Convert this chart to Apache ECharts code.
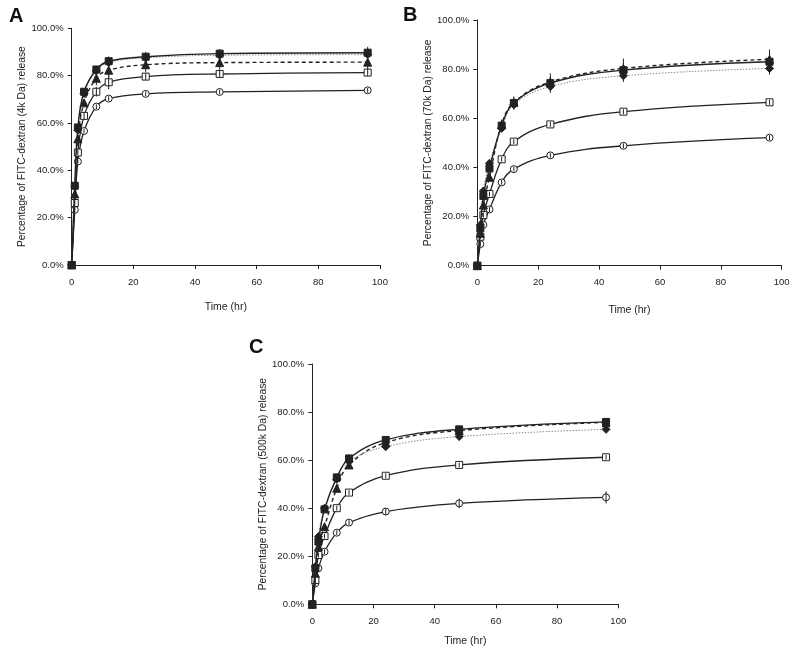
<!DOCTYPE html>
<html>
<head>
<meta charset="utf-8">
<script src="https://cdn.jsdelivr.net/npm/echarts@6/dist/echarts.min.js"></script>
<style>html,body{margin:0;padding:0;background:#fff}#c{width:800px;height:650px}</style>
</head>
<body>
<div id="c"></div>
<script>
// Time points (hr)
var times = [0, 1, 2, 4, 8, 12, 24, 48, 96];

// X ticks and Y ticks
var xTicks = [0, 20, 40, 60, 80, 100];
var yTicks = [0, 20, 40, 60, 80, 100];

// Panel titles
var panelLetters = ['A', 'B', 'C'];
var yTitles = [
  'Percentage of FITC-dextran (4k Da) release',
  'Percentage of FITC-dextran (70k Da) release',
  'Percentage of FITC-dextran (500k Da) release'
];
var xTitle = 'Time (hr)';

// Panel A (4k Da) values, % release
var A_sq   = [0, 33.5, 58.1, 73.2, 82.6, 86.1, 88.0, 89.3, 89.7];
var A_dia  = [0, 33.0, 57.0, 72.5, 82.0, 85.5, 87.5, 88.6, 88.9];
var A_tri  = [0, 30.0, 53.3, 68.5, 78.9, 82.3, 84.6, 85.5, 85.7];
var A_osq  = [0, 26.2, 47.5, 63.0, 73.2, 77.2, 79.6, 80.7, 81.3];
var A_ocir = [0, 23.3, 43.7, 56.6, 66.9, 70.3, 72.3, 73.1, 73.8];
// Panel A error bars (±)
var A_sq_err   = [0, 1, 1, 1.5, 1.5, 2, 2, 2, 2.5];
var A_dia_err  = [0, 1, 1, 1, 1.5, 1.5, 1.5, 2, 2];
var A_tri_err  = [0, 1, 1, 1.5, 3, 3, 3, 3, 3];
var A_osq_err  = [0, 1, 1, 1.5, 2, 3, 1.5, 1.5, 1.5];
var A_ocir_err = [0, 1, 1, 1, 1, 1, 1, 1, 1];

// Panel B (70k Da)
var B_sq   = [0, 15.2, 28.4, 39.6, 57.0, 66.2, 74.3, 79.6, 83.0];
var B_dia  = [0, 16.6, 30.4, 41.7, 55.9, 65.5, 72.9, 77.3, 80.3];
var B_tri  = [0, 13.2, 24.7, 36.0, 57.5, 66.4, 74.8, 80.3, 84.0];
var B_osq  = [0, 11.8, 20.6, 29.2, 43.3, 50.5, 57.5, 62.7, 66.5];
var B_ocir = [0, 8.8, 16.6, 22.9, 33.9, 39.3, 44.9, 48.8, 52.1];
var B_sq_err   = [0, 1, 1.5, 1.5, 1.5, 2, 2.5, 3, 3.5];
var B_dia_err  = [0, 1, 1, 1.5, 1.5, 2, 2.5, 2.5, 2.5];
var B_tri_err  = [0, 1, 1, 1.5, 2, 2.5, 3.5, 4, 4];
var B_osq_err  = [0, 1, 1, 1, 1, 1, 1, 1, 1];
var B_ocir_err = [0, 1, 1, 1, 1, 1, 1, 1, 1];

// Panel C (500k Da)
var C_sq   = [0, 15.0, 26.1, 39.5, 52.8, 60.7, 68.4, 72.8, 75.9];
var C_dia  = [0, 15.7, 28.2, 40.0, 52.0, 59.5, 65.6, 69.8, 72.8];
var C_tri  = [0, 12.9, 24.0, 32.3, 48.3, 58.0, 67.3, 72.3, 75.7];
var C_osq  = [0, 10.1, 20.5, 28.4, 40.0, 46.5, 53.5, 58.0, 61.2];
var C_ocir = [0, 8.7, 15.0, 21.9, 29.8, 34.0, 38.6, 42.0, 44.5];
var C_sq_err   = [0, 1, 1, 1.5, 1.5, 1.5, 1.5, 1.5, 1.5];
var C_dia_err  = [0, 1, 1, 1, 1.5, 1.5, 1.5, 1.5, 1.5];
var C_tri_err  = [0, 1, 1, 1.5, 1.5, 1.5, 1.5, 1.5, 1.5];
var C_osq_err  = [0, 1, 1, 1, 1, 1, 1, 1, 1];
var C_ocir_err = [0, 1, 1, 1, 1, 1, 1.5, 2, 2.5];

var panels = [
  {vals: [A_sq, A_dia, A_tri, A_osq, A_ocir], errs: [A_sq_err, A_dia_err, A_tri_err, A_osq_err, A_ocir_err]},
  {vals: [B_sq, B_dia, B_tri, B_osq, B_ocir], errs: [B_sq_err, B_dia_err, B_tri_err, B_osq_err, B_ocir_err]},
  {vals: [C_sq, C_dia, C_tri, C_osq, C_ocir], errs: [C_sq_err, C_dia_err, C_tri_err, C_osq_err, C_ocir_err]}
];

var FONT = 'Liberation Sans';
var INK = '#222';

var grids = [
  {left: 71.7, top: 28.3, width: 308.3, height: 236.7},
  {left: 477.3, top: 20, width: 304.4, height: 245.7},
  {left: 312.3, top: 364, width: 306, height: 240.3}
];
var nameGapsX = [37, 39, 31];

var styles = [
  {symbol: 'rect', size: 7, fill: INK, line: {color: INK, width: 1.4, type: 'solid'}},
  {symbol: 'diamond', size: 8, fill: INK, line: {color: '#8a8a8a', width: 1, type: [1.5, 1.5]}},
  {symbol: 'triangle', size: 8, fill: INK, line: {color: INK, width: 1.4, type: [4, 3]}},
  {symbol: 'rect', size: 7, fill: '#fff', line: {color: INK, width: 1.3, type: 'solid'}},
  {symbol: 'circle', size: 7, fill: '#fff', line: {color: INK, width: 1.3, type: 'solid'}}
];

var xAxes = [], yAxes = [], series = [], graphics = [];
grids.forEach(function (g, i) {
  xAxes.push({
    type: 'value', gridIndex: i, min: xTicks[0], max: xTicks[xTicks.length - 1],
    interval: xTicks[1] - xTicks[0],
    name: xTitle, nameLocation: 'middle', nameGap: nameGapsX[i],
    nameTextStyle: {fontFamily: FONT, fontSize: 10.5, color: INK},
    axisLine: {lineStyle: {color: INK, width: 1}},
    axisTick: {show: true, length: 4, lineStyle: {color: INK}},
    axisLabel: {fontFamily: FONT, fontSize: 9.5, color: INK, margin: 12},
    splitLine: {show: false}
  });
  yAxes.push({
    type: 'value', gridIndex: i, min: yTicks[0], max: yTicks[yTicks.length - 1],
    interval: yTicks[1] - yTicks[0],
    name: yTitles[i], nameLocation: 'middle', nameGap: 44.5,
    nameTextStyle: {fontFamily: FONT, fontSize: 10.3, color: INK},
    axisLine: {show: true, lineStyle: {color: INK, width: 1}},
    axisTick: {show: true, length: 4, lineStyle: {color: INK}},
    axisLabel: {fontFamily: FONT, fontSize: 9.5, color: INK, margin: 8,
      formatter: function (v) { return v.toFixed(1) + '%'; }},
    splitLine: {show: false}
  });
  var p = panels[i];
  p.vals.forEach(function (vals, k) {
    var st = styles[k];
    series.push({
      type: 'line', xAxisIndex: i, yAxisIndex: i,
      data: times.map(function (t, j) { return [t, vals[j]]; }),
      smooth: 0.4,
      symbol: st.symbol, symbolSize: st.size, showSymbol: true,
      lineStyle: st.line,
      itemStyle: {color: st.fill, borderColor: INK, borderWidth: 1},
      z: 2 + (4 - k), silent: true, animation: false
    });
    series.push({
      type: 'custom', xAxisIndex: i, yAxisIndex: i,
      data: times.map(function (t, j) { return [t, vals[j], p.errs[k][j]]; }),
      renderItem: function (params, api) {
        var x = api.value(0), y = api.value(1), e = api.value(2);
        var a = api.coord([x, y - e]);
        var b = api.coord([x, y + e]);
        return {type: 'line', shape: {x1: a[0], y1: a[1], x2: b[0], y2: b[1]},
          style: {stroke: INK, lineWidth: 1}};
      },
      z: 10, silent: true, animation: false
    });
  });
});

graphics.push({type: 'text', left: 9, top: 6, style: {text: panelLetters[0], font: 'bold 20px "Liberation Sans"', fill: '#111'}});
graphics.push({type: 'text', left: 403, top: 5, style: {text: panelLetters[1], font: 'bold 20px "Liberation Sans"', fill: '#111'}});
graphics.push({type: 'text', left: 249, top: 337, style: {text: panelLetters[2], font: 'bold 20px "Liberation Sans"', fill: '#111'}});

var chart = echarts.init(document.getElementById('c'), null, {renderer: 'canvas'});
chart.setOption({
  animation: false,
  backgroundColor: '#fff',
  grid: grids,
  xAxis: xAxes,
  yAxis: yAxes,
  series: series,
  graphic: graphics
});
</script>
</body>
</html>
